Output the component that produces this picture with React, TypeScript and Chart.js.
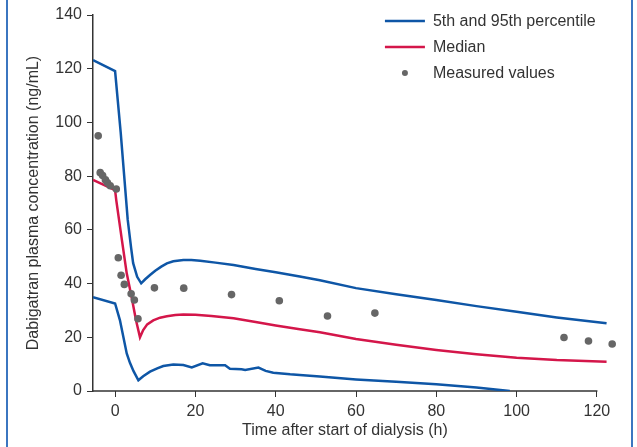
import React, { useEffect, useRef } from "react";
import { Chart, registerables } from "chart.js";

Chart.register(...registerables);

// 95th percentile (upper blue line)
const upperX = [-5.5, 0, 1.4, 3.15, 4.0, 4.5, 5.5, 6.5, 7.5, 8.7, 10, 11.5, 12.9, 14.5, 17, 19, 21.2, 25, 29.5, 35, 40, 46, 51, 60, 70, 80, 90, 100, 110, 122.4];
const upperY = [123.2, 119.1, 96.2, 63.7, 53.2, 47.6, 42.5, 40.1, 41.6, 43.2, 44.8, 46.3, 47.5, 48.3, 48.8, 48.8, 48.5, 47.8, 46.9, 45.4, 44.2, 42.6, 41.2, 38.3, 36.0, 33.9, 31.6, 29.5, 27.4, 25.2];

// Median (red line)
const medianX = [-5.5, 0, 0.3, 1.7, 2.9, 4.1, 5.2, 6.2, 7, 8, 9.5, 11.2, 12.9, 15, 17, 20, 24, 29.5, 35, 40, 46, 51, 60, 70, 80, 90, 100, 110, 122.4];
const medianY = [78.6, 74.8, 71.0, 56.2, 43.8, 35.1, 26.4, 20.0, 22.7, 24.8, 26.3, 27.3, 27.8, 28.3, 28.5, 28.4, 27.9, 27.1, 25.7, 24.4, 23.0, 21.9, 19.4, 17.2, 15.3, 13.7, 12.4, 11.5, 10.9];

// 5th percentile (lower blue line)
const lowerX = [-5.5, 0, 1.2, 2.9, 3.7, 4.6, 5.8, 7, 8.7, 10.5, 12, 14.5, 17, 19.1, 21.8, 23.6, 27.4, 28.6, 31.5, 32.4, 35.7, 37.5, 39.4, 43.6, 46, 51, 60, 70, 80, 90, 98.3];
const lowerY = [34.9, 32.6, 26.4, 14.0, 10.5, 7.4, 4.0, 5.5, 7.2, 8.4, 9.3, 9.9, 9.7, 8.8, 10.3, 9.6, 9.6, 8.3, 8.1, 7.8, 8.7, 7.5, 6.8, 6.2, 6.0, 5.4, 4.3, 3.4, 2.5, 1.3, 0];

// Measured values (grey dots)
const measuredX = [-4.2, -3.7, -3.1, -2.4, -1.9, -1.2, 0.3, 0.8, 1.5, 2.3, 4.0, 4.8, 5.7, 9.8, 17.1, 29.0, 40.9, 52.9, 64.7, 111.8, 117.9, 123.8];
const measuredY = [95.0, 81.3, 80.2, 78.6, 77.5, 76.4, 75.2, 49.6, 43.1, 39.7, 36.2, 33.9, 26.9, 38.4, 38.3, 35.9, 33.6, 27.9, 29.0, 19.9, 18.6, 17.5];

const xTicks = [0, 20, 40, 60, 80, 100, 120];
const yTicks = [0, 20, 40, 60, 80, 100, 120, 140];
const X_MIN = -5.5;
const X_AXIS_END = 120; // axis line stops at the last tick
const X_MAX = 125; // data extend a little past the axis end
const X_TITLE = "Time after start of dialysis (h)";
const Y_TITLE = "Dabigatran plasma concentration (ng/mL)";

const BLUE = "#0e56a6";
const RED = "#d4164a";
const GREY = "#666666";
const TEXT = "#333333";
const FONT = '"Liberation Sans", Arial, sans-serif';

const pts = (xs: number[], ys: number[]) => xs.map((x, i) => ({ x, y: ys[i] }));

const axisLinePlugin = {
  id: "xAxisLine",
  beforeDatasetsDraw(chart: any) {
    const ctx = chart.ctx;
    const xs = chart.scales.x;
    const area = chart.chartArea;
    const end = xs.getPixelForValue(X_AXIS_END);
    ctx.save();
    ctx.strokeStyle = TEXT;
    ctx.lineWidth = 1.5;
    ctx.beginPath();
    ctx.moveTo(area.left, area.bottom);
    ctx.lineTo(end + 0.5, area.bottom);
    ctx.stroke();
    // x-axis title, centred under the drawn axis line
    ctx.font = "16px " + FONT;
    ctx.fillStyle = TEXT;
    ctx.textAlign = "center";
    ctx.textBaseline = "middle";
    ctx.fillText(X_TITLE, (area.left + end) / 2, chart.height - 16);
    ctx.restore();
  },
};

const legendPlugin = {
  id: "customLegend",
  afterDraw(chart: any) {
    const ctx = chart.ctx;
    const area = chart.chartArea;
    const right = chart.scales.x.getPixelForValue(X_AXIS_END);
    const x0 = right - 212;
    const lineLen = 40;
    const textX = right - 164;
    const rows = [
      { label: chart.data.datasets[1].label, kind: "line", color: BLUE },
      { label: chart.data.datasets[3].label, kind: "line", color: RED },
      { label: chart.data.datasets[0].label, kind: "dot", color: GREY },
    ];
    ctx.save();
    ctx.font = "16px " + FONT;
    ctx.textBaseline = "middle";
    ctx.textAlign = "left";
    rows.forEach((r, i) => {
      const y = area.top + 6 + i * 26;
      if (r.kind === "line") {
        ctx.strokeStyle = r.color;
        ctx.lineWidth = 2.5;
        ctx.beginPath();
        ctx.moveTo(x0, y);
        ctx.lineTo(x0 + lineLen, y);
        ctx.stroke();
      } else {
        ctx.fillStyle = r.color;
        ctx.beginPath();
        ctx.arc(x0 + lineLen / 2, y, 3, 0, Math.PI * 2);
        ctx.fill();
      }
      ctx.fillStyle = TEXT;
      ctx.fillText(r.label, textX, y + 1);
    });
    ctx.restore();
  },
};

export default function App() {
  const ref = useRef<HTMLCanvasElement>(null);

  useEffect(() => {
    if (!ref.current) return;
    Chart.defaults.font.family = FONT;
    Chart.defaults.font.size = 16;
    Chart.defaults.color = TEXT;
    const lineDs = (label: string, xs: number[], ys: number[], color: string) => ({
      label,
      data: pts(xs, ys),
      showLine: true,
      borderColor: color,
      backgroundColor: color,
      borderWidth: 2.5,
      pointRadius: 0,
      pointHoverRadius: 0,
      tension: 0,
      order: 1,
    });
    const chart = new Chart(ref.current, {
      type: "scatter",
      data: {
        datasets: [
          {
            label: "Measured values",
            data: pts(measuredX, measuredY),
            backgroundColor: GREY,
            borderWidth: 0,
            pointRadius: 3.8,
            clip: false as any,
            order: 0,
          },
          lineDs("5th and 95th percentile", upperX, upperY, BLUE),
          lineDs("5th percentile", lowerX, lowerY, BLUE),
          lineDs("Median", medianX, medianY, RED),
        ],
      },
      options: {
        responsive: false,
        devicePixelRatio: 1,
        animation: false,
        layout: { padding: { left: 0, right: 20, top: 15, bottom: 0 } },
        plugins: { legend: { display: false }, tooltip: { enabled: false } },
        scales: {
          x: {
            type: "linear",
            min: X_MIN,
            max: X_MAX,
            afterBuildTicks: (scale: any) => {
              scale.ticks = xTicks.map((v) => ({ value: v }));
            },
            afterFit: (scale: any) => {
              scale.height = 56;
            },
            grid: { display: true, drawOnChartArea: false, drawTicks: true, tickLength: 6, color: TEXT, lineWidth: 1 },
            border: { display: false },
            ticks: { padding: 5, color: TEXT, font: { size: 16 } },
            title: { display: false },
          },
          y: {
            type: "linear",
            min: 0,
            max: 140,
            afterBuildTicks: (scale: any) => {
              scale.ticks = yTicks.map((v) => ({ value: v }));
            },
            afterFit: (scale: any) => {
              scale.width = 93;
            },
            grid: { display: true, drawOnChartArea: false, drawTicks: true, tickLength: 6, color: TEXT, lineWidth: 1 },
            border: { display: true, color: TEXT, width: 1.5 },
            ticks: { padding: 5, color: TEXT, font: { size: 16 } },
            title: {
              display: true,
              text: Y_TITLE,
              color: TEXT,
              font: { size: 16 },
              padding: { top: 24, bottom: 0 },
            },
          },
        },
      },
      plugins: [axisLinePlugin, legendPlugin],
    });
    return () => chart.destroy();
  }, []);

  return (
    <div style={{ position: "fixed", left: 0, top: 0, width: 637, height: 447, background: "#ffffff", overflow: "hidden" }}>
      <canvas ref={ref} width={637} height={447} style={{ display: "block", position: "absolute", left: 0, top: 0 }} />
      <div style={{ position: "absolute", left: 6, top: 0, width: 2, height: 447, background: "#3b76c0" }} />
      <div style={{ position: "absolute", left: 631, top: 0, width: 2, height: 447, background: "#3b76c0" }} />
    </div>
  );
}
